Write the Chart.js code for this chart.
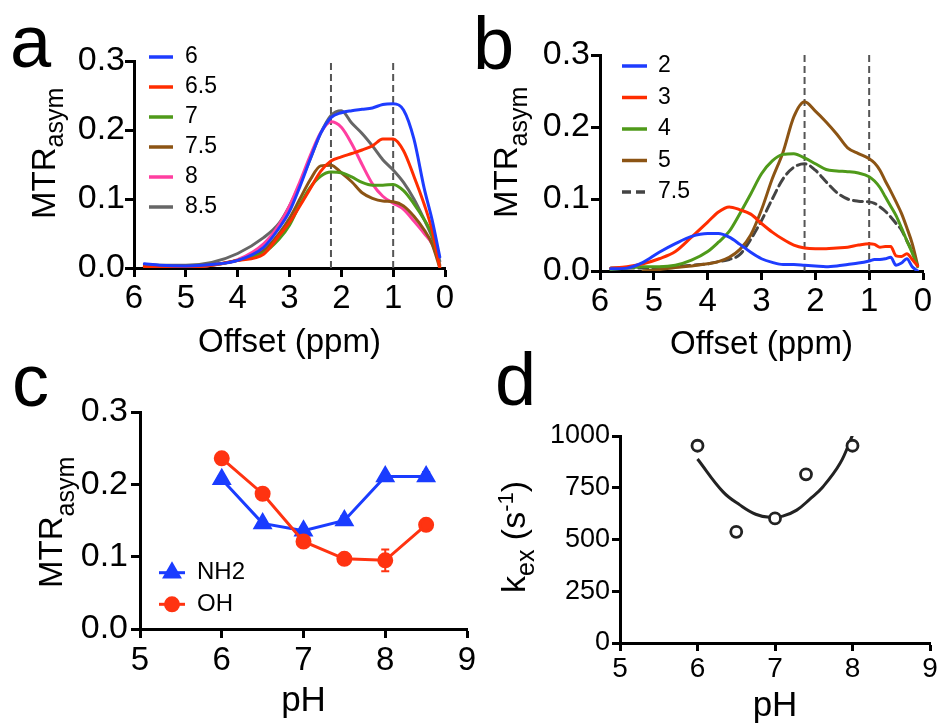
<!DOCTYPE html>
<html>
<head>
<meta charset="utf-8">
<title>MTRasym vs offset and pH</title>
<script src="https://cdn.jsdelivr.net/npm/chart.js@4.4.1/dist/chart.umd.min.js"></script>
<style>
    html, body { margin: 0; padding: 0; background: #fff; }
    body { position: relative; width: 938px; height: 727px; overflow: hidden; font-family: "Liberation Sans", Arial, sans-serif; }
    canvas { position: absolute; }
    .letter { position: absolute; font-size: 74px; line-height: 74px; color: #000; }
</style>
</head>
<body>
<div class="letter" style="left:10px;top:5px">a</div>
<div class="letter" style="left:473px;top:7px">b</div>
<div class="letter" style="left:12px;top:344px">c</div>
<div class="letter" style="left:495px;top:343px">d</div>
<canvas id="chartC" width="500" height="362" style="left:0;top:365px"></canvas>
<canvas id="chartD" width="480" height="362" style="left:470px;top:365px"></canvas>
<canvas id="chartA" width="470" height="365" style="left:0;top:0"></canvas>
<canvas id="chartB" width="468" height="365" style="left:470px;top:0"></canvas>
<script>
"use strict";

// ---- panel a : MTRasym spectra at different pH ----
const offsetA = [5.8, 5.5, 5.0, 4.5, 4.0, 3.5, 3.2, 3.0, 2.8, 2.6, 2.4, 2.2, 2.0, 1.8, 1.6, 1.4, 1.2, 1.0, 0.8, 0.6, 0.4, 0.25, 0.1];
const phA = ["6", "6.5", "7", "7.5", "8", "8.5"];
const mtrPh6  = [0.006, 0.004, 0.003, 0.005, 0.011, 0.030, 0.058, 0.082, 0.118, 0.158, 0.195, 0.218, 0.225, 0.228, 0.230, 0.232, 0.237, 0.238, 0.229, 0.187, 0.115, 0.070, 0.016];
const mtrPh65 = [0.002, 0.001, 0.001, 0.004, 0.011, 0.020, 0.047, 0.066, 0.090, 0.115, 0.140, 0.155, 0.161, 0.166, 0.171, 0.177, 0.187, 0.187, 0.170, 0.133, 0.092, 0.055, 0.000];
const mtrPh7  = [0.002, 0.002, 0.002, 0.004, 0.011, 0.022, 0.042, 0.062, 0.092, 0.117, 0.133, 0.139, 0.138, 0.132, 0.124, 0.120, 0.120, 0.121, 0.112, 0.093, 0.070, 0.048, 0.003];
const mtrPh75 = [0.003, 0.003, 0.003, 0.005, 0.011, 0.025, 0.050, 0.072, 0.100, 0.128, 0.148, 0.149, 0.138, 0.125, 0.109, 0.101, 0.097, 0.096, 0.090, 0.075, 0.055, 0.035, 0.000];
const mtrPh8  = [0.002, 0.000, 0.001, 0.004, 0.012, 0.035, 0.063, 0.090, 0.125, 0.163, 0.196, 0.212, 0.204, 0.180, 0.150, 0.122, 0.104, 0.094, 0.085, 0.068, 0.050, 0.035, 0.005];
const mtrPh85 = [0.005, 0.004, 0.004, 0.008, 0.021, 0.044, 0.065, 0.090, 0.122, 0.158, 0.195, 0.221, 0.228, 0.210, 0.195, 0.177, 0.157, 0.142, 0.124, 0.100, 0.070, 0.045, 0.010];

// ---- panel b : MTRasym spectra for different samples ----
const offsetB = [5.8, 5.5, 5.2, 4.9, 4.6, 4.3, 4.0, 3.8, 3.6, 3.4, 3.2, 3.0, 2.8, 2.6, 2.4, 2.2, 2.0, 1.8, 1.6, 1.4, 1.2, 1.0, 0.9, 0.8, 0.7, 0.6, 0.5, 0.4, 0.3, 0.2, 0.1];
const labelsB = ["2", "3", "4", "5", "7.5"];
const mtrB2  = [0.003, 0.004, 0.012, 0.026, 0.038, 0.048, 0.052, 0.052, 0.047, 0.037, 0.026, 0.017, 0.012, 0.009, 0.009, 0.008, 0.007, 0.006, 0.007, 0.009, 0.011, 0.014, 0.016, 0.016, 0.017, 0.019, 0.008, 0.011, 0.017, 0.006, 0.000];
const mtrB3  = [0.004, 0.006, 0.010, 0.017, 0.027, 0.047, 0.068, 0.082, 0.089, 0.085, 0.079, 0.066, 0.054, 0.044, 0.036, 0.032, 0.031, 0.031, 0.032, 0.033, 0.036, 0.038, 0.037, 0.033, 0.034, 0.034, 0.021, 0.020, 0.024, 0.016, 0.007];
const mtrB4  = [0.002, 0.004, 0.006, 0.006, 0.008, 0.015, 0.027, 0.040, 0.055, 0.080, 0.107, 0.135, 0.153, 0.162, 0.163, 0.157, 0.149, 0.141, 0.139, 0.138, 0.136, 0.131, 0.125, 0.116, 0.103, 0.090, 0.077, 0.060, 0.042, 0.025, 0.006];
const mtrB5  = [null, null, 0.000, 0.002, 0.005, 0.007, 0.010, 0.013, 0.019, 0.030, 0.050, 0.085, 0.128, 0.165, 0.214, 0.235, 0.222, 0.207, 0.190, 0.171, 0.163, 0.156, 0.150, 0.140, 0.125, 0.111, 0.096, 0.080, 0.060, 0.038, 0.008];
const mtrB75 = [0.004, 0.004, 0.004, 0.005, 0.006, 0.008, 0.010, 0.013, 0.016, 0.023, 0.044, 0.070, 0.100, 0.128, 0.144, 0.149, 0.140, 0.124, 0.109, 0.100, 0.097, 0.096, 0.094, 0.089, 0.083, 0.075, 0.066, 0.057, 0.042, 0.027, 0.008];

// dashed reference offsets (ppm)
const markOffsets = [2.2, 1.0];

// ---- panel c : MTRasym vs pH ----
const phC = [6, 6.5, 7, 7.5, 8, 8.5];
const nh2 = [0.207, 0.146, 0.136, 0.150, 0.211, 0.211];
const nh2Err = [0.004, 0.004, 0.004, 0.006, 0.004, 0.006];
const oh = [0.236, 0.187, 0.121, 0.097, 0.095, 0.144];
const ohErr = [0.006, 0.004, 0.004, 0.005, 0.015, 0.007];

// ---- panel d : exchange rate vs pH ----
const phD = [6, 6.5, 7, 7.4, 8];
const kex = [953, 537, 602, 815, 953];
const fitPh = [6.0, 6.33, 6.55, 6.75, 6.93, 7.1, 7.28, 7.45, 7.62, 7.84, 8.0];
const fitK = [889, 730, 666, 622, 607, 613, 642, 695, 755, 868, 1004];

const FONT = "'Liberation Sans', Arial, Helvetica, sans-serif";
Chart.defaults.font.family = FONT;
Chart.defaults.color = "#000";

function pts(xs, ys) {
    return xs.map((x, i) => ({ x: x, y: ys[i] }));
}

function axis(extra, tickLength) {
    return Object.assign({
        type: "linear",
        border: { width: 3, color: "#000" },
        grid: { drawOnChartArea: false, tickLength: tickLength || 9, tickWidth: 3, tickColor: "#000", color: "#000" },
    }, extra);
}

/**
 * Axis title rotated, with sub / superscripts
 */
function yTitle(spec) {
    return {
        id: "yTitle",
        afterDraw(chart) {
            const ctx = chart.ctx;
            ctx.save();
            ctx.translate(spec.x, spec.y);
            ctx.rotate(-Math.PI / 2);
            ctx.fillStyle = "#000";
            ctx.textBaseline = "alphabetic";
            let pos = 0;
            spec.parts.forEach((p) => {
                ctx.font = p[1] + "px " + FONT;
                ctx.fillText(p[0], pos, p[2]);
                pos += ctx.measureText(p[0]).width;
            });
            ctx.restore();
        },
    };
}

/**
 * Legend inside the plot area
 */
function inLegend(spec) {
    return {
        id: "inLegend",
        afterDraw(chart) {
            const ctx = chart.ctx;
            ctx.save();
            spec.items.forEach((idx, row) => {
                const ds = chart.data.datasets[idx];
                const y = spec.y + row * spec.gap;
                ctx.strokeStyle = ds.borderColor;
                ctx.lineWidth = spec.lineWidth;
                ctx.setLineDash(ds.borderDash || []);
                ctx.beginPath();
                ctx.moveTo(spec.x, y);
                ctx.lineTo(spec.x + spec.len, y);
                ctx.stroke();
                ctx.setLineDash([]);
                if (ds.pointRadius) {
                    ctx.fillStyle = ds.borderColor;
                    Chart.helpers.drawPoint(ctx, { pointStyle: ds.pointStyle, radius: ds.pointRadius, borderWidth: 1 }, spec.x + spec.len / 2, y);
                }
                ctx.fillStyle = "#000";
                ctx.font = spec.size + "px " + FONT;
                ctx.textBaseline = "middle";
                ctx.fillText(ds.label, spec.labelX, y);
            });
            ctx.restore();
        },
    };
}

/**
 * Error bars (mean +/- err)
 */
function errorBars(sets) {
    return {
        id: "errorBars",
        beforeDatasetsDraw(chart) {
            const ctx = chart.ctx;
            const yScale = chart.scales.y;
            ctx.save();
            sets.forEach((s) => {
                const ds = chart.data.datasets[s.index];
                const meta = chart.getDatasetMeta(s.index);
                ctx.strokeStyle = ds.borderColor;
                ctx.lineWidth = 2;
                meta.data.forEach((pt, i) => {
                    const v = ds.data[i].y;
                    const top = yScale.getPixelForValue(v + s.err[i]);
                    const bot = yScale.getPixelForValue(v - s.err[i]);
                    ctx.beginPath();
                    ctx.moveTo(pt.x, top);
                    ctx.lineTo(pt.x, bot);
                    ctx.moveTo(pt.x - 4, top);
                    ctx.lineTo(pt.x + 4, top);
                    ctx.moveTo(pt.x - 4, bot);
                    ctx.lineTo(pt.x + 4, bot);
                    ctx.stroke();
                });
            });
            ctx.restore();
        },
    };
}

function curve(label, xs, ys, color, dash) {
    return {
        label: label,
        data: pts(xs, ys),
        borderColor: color,
        borderWidth: 3,
        borderDash: dash || [],
        pointRadius: 0,
        cubicInterpolationMode: "monotone",
        borderCapStyle: "round",
        spanGaps: false,
    };
}

function markLines(top) {
    return markOffsets.map((m) => ({
        label: "",
        data: [{ x: m, y: 0 }, { x: m, y: top }],
        borderColor: "#555",
        borderWidth: 2,
        borderDash: [7, 4],
        pointRadius: 0,
    }));
}

function spectrumOptions(area, canvas) {
    return {
        responsive: false,
        animation: false,
        layout: { padding: { left: 0, top: area.top, right: canvas.w - area.right, bottom: 0 } },
        plugins: {
            legend: { display: false },
            tooltip: { enabled: false },
        },
        scales: {
            x: axis({
                min: 0, max: 6, reverse: true,
                ticks: { stepSize: 1, font: { size: 33 }, padding: area.xPad },
                title: { display: true, text: "Offset (ppm)", font: { size: 33 }, padding: { top: 0, bottom: area.titlePad } },
                afterFit: (s) => { s.height = canvas.h - area.bottom; },
            }),
            y: axis({
                min: 0, max: 0.3,
                ticks: { stepSize: 0.1, font: { size: 34 }, padding: area.yPad, callback: (v) => v.toFixed(1) },
                afterFit: (s) => { s.width = area.left; },
            }),
        },
    };
}

// panel a
const colorsA = ["#1e3cff", "#ff2d00", "#4f9a1a", "#8c5414", "#ff3ea0", "#666666"];
const seriesA = [mtrPh6, mtrPh65, mtrPh7, mtrPh75, mtrPh8, mtrPh85];
new Chart(document.getElementById("chartA"), {
    type: "line",
    data: {
        datasets: seriesA.map((s, i) => curve(phA[i], offsetA, s, colorsA[i])).concat(markLines(0.3)),
    },
    options: spectrumOptions({ left: 134, right: 445, top: 61, bottom: 268, xPad: 2, yPad: 0, titlePad: 2 }, { w: 470, h: 365 }),
    plugins: [
        yTitle({ x: 55, y: 219, parts: [["MTR", 33, 0], ["asym", 25, 8]] }),
        inLegend({ items: [0, 1, 2, 3, 4, 5], x: 149, y: 57, gap: 30, len: 24, labelX: 185, size: 23, lineWidth: 3.5 }),
    ],
});

// panel b
const colorsB = ["#1e3cff", "#ff2d00", "#4f9a1a", "#8c5414", "#444444"];
const seriesB = [mtrB2, mtrB3, mtrB4, mtrB5, mtrB75];
new Chart(document.getElementById("chartB"), {
    type: "line",
    data: {
        datasets: seriesB.map((s, i) => curve(labelsB[i], offsetB, s, colorsB[i], i === 4 ? [9, 5] : null)).concat(markLines(0.3)),
    },
    options: spectrumOptions({ left: 130, right: 453, top: 55, bottom: 271, xPad: 2, yPad: 1, titlePad: 0 }, { w: 468, h: 365 }),
    plugins: [
        yTitle({ x: 47, y: 218, parts: [["MTR", 33, 0], ["asym", 25, 10]] }),
        inLegend({ items: [0, 1, 2, 3, 4], x: 152, y: 66, gap: 31.5, len: 25, labelX: 188, size: 23, lineWidth: 3.5 }),
    ],
});

// panel c
new Chart(document.getElementById("chartC"), {
    type: "line",
    data: {
        datasets: [
            {
                label: "NH2", data: pts(phC, nh2), borderColor: "#1a3cff", backgroundColor: "#1a3cff",
                borderWidth: 3, pointStyle: "triangle", pointRadius: 8.5, order: 1,
            },
            {
                label: "OH", data: pts(phC, oh), borderColor: "#ff3311", backgroundColor: "#ff3311",
                borderWidth: 3, pointStyle: "circle", pointRadius: 6.5, order: 0,
            },
        ],
    },
    options: {
        responsive: false,
        animation: false,
        layout: { padding: { left: 0, top: 47, right: 33, bottom: 0 } },
        plugins: {
            legend: { display: false },
            tooltip: { enabled: false },
        },
        scales: {
            x: axis({
                min: 5, max: 9,
                ticks: { stepSize: 1, font: { size: 33 }, padding: 3 },
                title: { display: true, text: "pH", font: { size: 35 }, padding: { top: 0, bottom: 5 } },
                afterFit: (s) => { s.height = 362 - 264; },
            }),
            y: axis({
                min: 0, max: 0.3,
                ticks: { stepSize: 0.1, font: { size: 34 }, padding: 3, callback: (v) => v.toFixed(1) },
                afterFit: (s) => { s.width = 140; },
            }),
        },
    },
    plugins: [
        yTitle({ x: 62, y: 223, parts: [["MTR", 33, 0], ["asym", 25, 12]] }),
        inLegend({ items: [0, 1], x: 159, y: 207.7, gap: 31.6, len: 26, labelX: 197, size: 24, lineWidth: 3 }),
        errorBars([{ index: 0, err: nh2Err }, { index: 1, err: ohErr }]),
    ],
});

// panel d
new Chart(document.getElementById("chartD"), {
    type: "line",
    data: {
        datasets: [
            {
                label: "kex", data: pts(phD, kex), showLine: false, borderColor: "#222", backgroundColor: "#fff",
                pointStyle: "circle", pointRadius: 5.5, pointBorderWidth: 2.8, order: 0,
            },
            {
                label: "fit", data: pts(fitPh, fitK), borderColor: "#222", borderWidth: 3,
                pointRadius: 0, tension: 0.4, order: 1,
            },
        ],
    },
    options: {
        responsive: false,
        animation: false,
        layout: { padding: { left: 0, top: 71, right: 20, bottom: 0 } },
        plugins: {
            legend: { display: false },
            tooltip: { enabled: false },
        },
        scales: {
            x: axis({
                min: 5, max: 9,
                ticks: { stepSize: 1, font: { size: 28 }, padding: 1 },
                title: { display: true, text: "pH", font: { size: 35 }, padding: { top: 0, bottom: 0 } },
                afterFit: (s) => { s.height = 362 - 278; },
            }, 8),
            y: axis({
                min: 0, max: 1000,
                ticks: { stepSize: 250, font: { size: 27 }, padding: 2, callback: (v) => String(v) },
                afterFit: (s) => { s.width = 150; },
            }, 8),
        },
    },
    plugins: [
        yTitle({
            x: 55, y: 228,
            parts: [["k", 34, 0], ["ex", 25, 9], [" (s", 34, 0], ["-1", 22, -12], [")", 34, 0]],
        }),
    ],
});
</script>
</body>
</html>
